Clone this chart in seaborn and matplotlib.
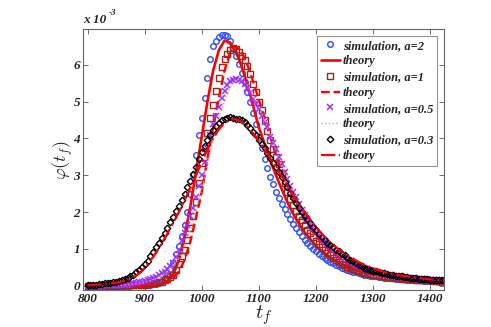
import numpy as np
import pandas as pd
import matplotlib
matplotlib.use("Agg")
import matplotlib.pyplot as plt
import seaborn as sns

# -----------------------------
# Data (phi values in units of 1e-3)
# -----------------------------

t_sim = np.arange(800, 1421, 5)
t_th = np.arange(800, 1421, 10)

sim_a2 = [
    0, 0, 0, 0, 0, 0, 0, 0, 0, 0,
    0, 0, 0, 0, 0, 0, 0.01, 0.01, 0.01, 0.02,
    0.02, 0.03, 0.03, 0.04, 0.05, 0.08, 0.12, 0.2, 0.3, 0.45,
    0.62, 0.85, 1.08, 1.36, 1.66, 2.0, 2.5, 3.0, 3.55, 4.1,
    4.55, 5.1, 5.65, 6.15, 6.5, 6.66, 6.76, 6.82, 6.82, 6.78,
    6.65, 6.47, 6.25, 6.02, 5.78, 5.52, 5.25, 4.98, 4.7, 4.38,
    4.05, 3.75, 3.45, 3.2, 2.95, 2.75, 2.55, 2.38, 2.22, 2.08,
    1.95, 1.81, 1.68, 1.56, 1.45, 1.35, 1.25, 1.16, 1.08, 1.0,
    0.93, 0.86, 0.8, 0.75, 0.7, 0.65, 0.61, 0.57, 0.53, 0.49,
    0.46, 0.43, 0.41, 0.38, 0.36, 0.34, 0.32, 0.3, 0.29, 0.27,
    0.26, 0.25, 0.24, 0.23, 0.22, 0.21, 0.2, 0.2, 0.19, 0.18,
    0.17, 0.17, 0.16, 0.16, 0.15, 0.15, 0.14, 0.14, 0.13, 0.13,
    0.12, 0.12, 0.12, 0.11, 0.11,
]

sim_a1 = [
    0, 0, 0, 0, 0, 0, 0, 0, 0, 0,
    0, 0, 0, 0.01, 0.01, 0.01, 0.01, 0.02, 0.02, 0.02,
    0.03, 0.04, 0.05, 0.06, 0.07, 0.09, 0.11, 0.14, 0.18, 0.23,
    0.29, 0.42, 0.6, 0.81, 0.98, 1.25, 1.57, 1.9, 2.28, 2.8,
    3.33, 3.75, 4.15, 4.55, 4.9, 5.3, 5.65, 5.95, 6.15, 6.3,
    6.4, 6.45, 6.42, 6.35, 6.25, 6.12, 5.98, 5.75, 5.48, 5.25,
    5.0, 4.77, 4.5, 4.2, 3.95, 3.7, 3.5, 3.3, 3.05, 2.8,
    2.55, 2.35, 2.18, 2.03, 1.9, 1.78, 1.66, 1.52, 1.42, 1.32,
    1.22, 1.13, 1.05, 0.97, 0.89, 0.82, 0.75, 0.69, 0.64, 0.59,
    0.55, 0.51, 0.48, 0.45, 0.42, 0.39, 0.37, 0.35, 0.33, 0.31,
    0.29, 0.28, 0.27, 0.26, 0.25, 0.24, 0.23, 0.22, 0.21, 0.2,
    0.19, 0.19, 0.18, 0.17, 0.17, 0.16, 0.16, 0.15, 0.15, 0.14,
    0.14, 0.13, 0.13, 0.13, 0.12,
]

sim_a05 = [
    0, 0, 0, 0, 0, 0, 0.01, 0.01, 0.01, 0.01,
    0.02, 0.02, 0.03, 0.03, 0.04, 0.05, 0.06, 0.07, 0.09, 0.11,
    0.13, 0.15, 0.18, 0.21, 0.24, 0.28, 0.33, 0.38, 0.45, 0.52,
    0.62, 0.78, 0.98, 1.2, 1.42, 1.65, 1.88, 2.12, 2.42, 2.72,
    3.0, 3.35, 3.75, 4.1, 4.4, 4.62, 4.85, 5.1, 5.3, 5.45,
    5.55, 5.6, 5.62, 5.6, 5.55, 5.47, 5.37, 5.23, 5.07, 4.93,
    4.8, 4.6, 4.45, 4.3, 4.05, 3.88, 3.72, 3.5, 3.3, 3.08,
    2.9, 2.72, 2.55, 2.4, 2.22, 2.06, 1.92, 1.8, 1.68, 1.57,
    1.47, 1.37, 1.28, 1.2, 1.12, 1.05, 0.98, 0.92, 0.86, 0.8,
    0.75, 0.7, 0.65, 0.61, 0.57, 0.53, 0.5, 0.47, 0.44, 0.42,
    0.39, 0.37, 0.35, 0.33, 0.31, 0.3, 0.28, 0.27, 0.26, 0.25,
    0.24, 0.23, 0.22, 0.21, 0.2, 0.19, 0.18, 0.18, 0.17, 0.17,
    0.16, 0.16, 0.15, 0.15, 0.14,
]

sim_a03 = [
    0.02, 0.02, 0.03, 0.03, 0.04, 0.05, 0.06, 0.07, 0.08, 0.09,
    0.1, 0.12, 0.14, 0.17, 0.2, 0.25, 0.3, 0.36, 0.43, 0.5,
    0.58, 0.68, 0.8, 0.92, 1.04, 1.17, 1.3, 1.43, 1.57, 1.72,
    1.87, 2.02, 2.17, 2.33, 2.5, 2.67, 2.83, 3.02, 3.22, 3.43,
    3.62, 3.8, 3.96, 4.1, 4.23, 4.34, 4.43, 4.5, 4.54, 4.56,
    4.57, 4.56, 4.54, 4.52, 4.49, 4.44, 4.36, 4.28, 4.18, 4.08,
    3.97, 3.86, 3.74, 3.6, 3.46, 3.33, 3.22, 3.09, 2.96, 2.82,
    2.67, 2.52, 2.38, 2.25, 2.12, 2.0, 1.9, 1.8, 1.7, 1.6,
    1.5, 1.41, 1.32, 1.24, 1.17, 1.1, 1.04, 0.98, 0.93, 0.87,
    0.82, 0.76, 0.71, 0.66, 0.61, 0.57, 0.53, 0.49, 0.46, 0.43,
    0.41, 0.39, 0.37, 0.35, 0.33, 0.31, 0.3, 0.28, 0.27, 0.26,
    0.25, 0.24, 0.23, 0.22, 0.21, 0.2, 0.19, 0.18, 0.18, 0.17,
    0.16, 0.16, 0.15, 0.15, 0.14,
]

th_a2 = [
    0, 0, 0, 0, 0, 0, 0, 0, 0, 0,
    0, 0, 0.01, 0.04, 0.12, 0.3, 0.7, 1.35, 2.15, 3.1,
    4.05, 5.0, 5.85, 6.4, 6.66, 6.6, 6.35, 5.95, 5.45, 4.88,
    4.3, 3.85, 3.4, 3.0, 2.62, 2.26, 1.95, 1.68, 1.45, 1.26,
    1.08, 0.94, 0.82, 0.72, 0.63, 0.55, 0.49, 0.43, 0.38, 0.34,
    0.31, 0.28, 0.25, 0.23, 0.21, 0.19, 0.18, 0.16, 0.15, 0.14,
    0.13, 0.12, 0.12,
]

th_a1 = [
    0, 0, 0, 0, 0, 0, 0, 0, 0, 0.01,
    0.01, 0.02, 0.03, 0.06, 0.11, 0.2, 0.38, 0.7, 1.2, 1.85,
    2.55, 3.45, 4.3, 5.1, 5.85, 6.35, 6.5, 6.35, 6.0, 5.55,
    5.05, 4.55, 4.05, 3.55, 3.1, 2.7, 2.35, 2.05, 1.78, 1.55,
    1.35, 1.17, 1.02, 0.88, 0.77, 0.67, 0.58, 0.51, 0.45, 0.4,
    0.35, 0.31, 0.28, 0.25, 0.23, 0.21, 0.19, 0.17, 0.16, 0.15,
    0.14, 0.13, 0.12,
]

th_a05 = [
    0, 0, 0, 0, 0, 0.01, 0.01, 0.02, 0.04, 0.06,
    0.09, 0.13, 0.19, 0.27, 0.38, 0.53, 0.75, 1.08, 1.52, 2.05,
    2.65, 3.3, 3.95, 4.55, 5.05, 5.4, 5.6, 5.6, 5.45, 5.2,
    4.88, 4.5, 4.1, 3.7, 3.3, 2.92, 2.57, 2.25, 1.97, 1.72,
    1.5, 1.31, 1.15, 1.0, 0.88, 0.77, 0.68, 0.6, 0.53, 0.47,
    0.42, 0.38, 0.34, 0.31, 0.28, 0.25, 0.23, 0.21, 0.19, 0.18,
    0.16, 0.15, 0.14,
]

th_a03 = [
    0.01, 0.02, 0.03, 0.04, 0.06, 0.08, 0.11, 0.15, 0.22, 0.33,
    0.48, 0.67, 0.9, 1.15, 1.42, 1.7, 2.0, 2.32, 2.65, 3.0,
    3.35, 3.7, 4.0, 4.25, 4.42, 4.52, 4.52, 4.45, 4.32, 4.14,
    3.93, 3.7, 3.46, 3.22, 2.97, 2.72, 2.47, 2.23, 2.0, 1.79,
    1.59, 1.41, 1.25, 1.11, 0.98, 0.87, 0.77, 0.68, 0.6, 0.53,
    0.47, 0.42, 0.37, 0.33, 0.3, 0.27, 0.25, 0.23, 0.21, 0.19,
    0.17, 0.16, 0.15,
]

x_ticks = [800, 900, 1000, 1100, 1200, 1300, 1400]
y_ticks = [0, 1, 2, 3, 4, 5, 6]

# -----------------------------
# Style
# -----------------------------

sns.set_style("ticks")
plt.rcParams["mathtext.fontset"] = "cm"
plt.rcParams["xtick.direction"] = "in"
plt.rcParams["ytick.direction"] = "in"

fig = plt.figure(figsize=(4.91, 3.27), dpi=100)
ax = fig.add_axes([0.169, 0.113, 0.735, 0.798])

serif = ["Liberation Serif", "DejaVu Serif"]

# -----------------------------
# Plot
# -----------------------------

sim_style = dict(linestyle="none", markerfacecolor="none", legend=False)

sns.lineplot(x=t_sim, y=sim_a2, ax=ax, marker="o", ms=4.0, mec="#2b4dff",
             mew=1.0, label="simulation, a=2", **sim_style)
sns.lineplot(x=t_th, y=th_a2, ax=ax, color="red", lw=1.9,
             label="theory", legend=False)
sns.lineplot(x=t_sim, y=sim_a1, ax=ax, marker="s", ms=3.8, mec="#a3241a",
             mew=1.0, label="simulation, a=1", **sim_style)
sns.lineplot(x=t_th, y=th_a1, ax=ax, color="red", lw=1.7, linestyle="--",
             dashes=(3, 2.5), label="theory", legend=False)
sns.lineplot(x=t_sim, y=sim_a05, ax=ax, marker="x", ms=4.0, mec="#9b30ff",
             mew=1.1, label="simulation, a=0.5", **sim_style)
sns.lineplot(x=t_th, y=th_a05, ax=ax, color="#ff8c8c", lw=1.0, linestyle=":",
             label="theory", legend=False)
sns.lineplot(x=t_sim, y=sim_a03, ax=ax, marker="D", ms=3.3, mec="black",
             mew=1.0, label="simulation, a=0.3", **sim_style)
sns.lineplot(x=t_th, y=th_a03, ax=ax, color="red", lw=1.6, linestyle="-.",
             label="theory", legend=False)

ax.set_xlim(792, 1424)
ax.set_ylim(-0.12, 6.97)
ax.set_xticks(x_ticks)
ax.set_yticks(y_ticks)
ax.tick_params(top=True, right=True, length=3.5, width=0.6, color="#555555", pad=2)

for lab in ax.get_xticklabels() + ax.get_yticklabels():
    lab.set_family(serif)
    lab.set_fontweight("bold")
    lab.set_fontstyle("italic")
    lab.set_fontsize(9.5)

for sp in ax.spines.values():
    sp.set_color("#666666")
    sp.set_linewidth(0.8)

ax.set_xlabel(r"$t_f$", fontsize=15, labelpad=-1)
ax.set_ylabel(r"$\varphi(t_f)$", fontsize=13, labelpad=-1)

ax.text(0.0, 1.012, "x 10", transform=ax.transAxes, family=serif,
        fontweight="bold", fontstyle="italic", fontsize=9.5, va="bottom")
ax.text(0.072, 1.045, "-3", transform=ax.transAxes, family=serif,
        fontweight="bold", fontstyle="italic", fontsize=6.5, va="bottom")

leg = ax.legend(loc="upper right", prop={"family": serif, "weight": "bold",
                                         "style": "italic", "size": 9},
                frameon=True, fancybox=False, edgecolor="#777777",
                borderaxespad=0.55, labelspacing=0.3, handlelength=1.5,
                handletextpad=0.25, borderpad=0.3, numpoints=1)
leg.get_frame().set_linewidth(0.8)

plt.savefig("out.png", dpi=100)
